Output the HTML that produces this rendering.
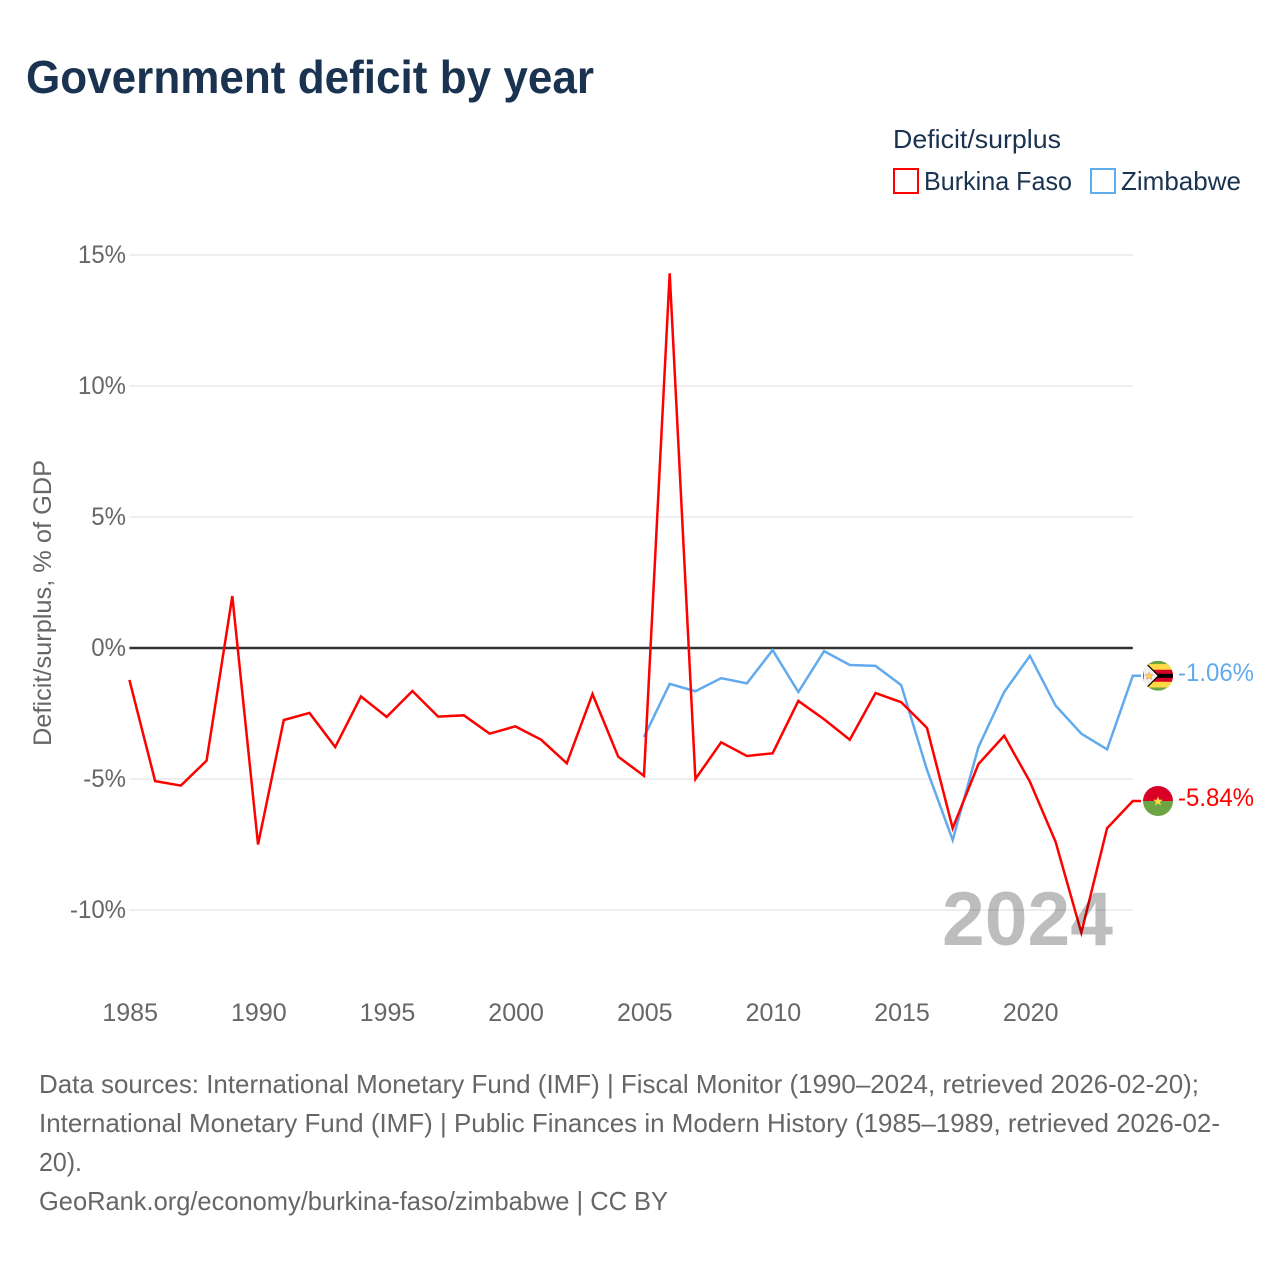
<!DOCTYPE html>
<html lang="en">
<head>
<meta charset="utf-8">
<title>Government deficit by year</title>
<style>
  html, body { margin: 0; padding: 0; background: #fff; }
  svg { display: block; font-family: "Liberation Sans", sans-serif; }
</style>
</head>
<body>
<svg id="chart" xmlns="http://www.w3.org/2000/svg" width="1280" height="1280" viewBox="0 0 1280 1280">
  <defs>
    <clipPath id="flag-clip"><circle cx="0" cy="0" r="15"></circle></clipPath>
  </defs>
  <rect x="0" y="0" width="1280" height="1280" fill="#ffffff"></rect>

  <text x="26" y="93" font-size="46" font-weight="700" fill="#1a3350" textLength="568" lengthAdjust="spacingAndGlyphs">Government deficit by year</text>

  <g>
    <text x="893" y="148" font-size="26" fill="#1a3350" textLength="168" lengthAdjust="spacingAndGlyphs">Deficit/surplus</text>
    <g>
      <rect x="894" y="169" width="24" height="24" fill="none" stroke="#ff0000" stroke-width="2"></rect>
      <text x="924" y="190" font-size="26" fill="#1a3350" textLength="148" lengthAdjust="spacingAndGlyphs">Burkina Faso</text>
    </g>
    <g>
      <rect x="1091" y="169" width="24" height="24" fill="none" stroke="#62aaee" stroke-width="2"></rect>
      <text x="1121" y="190" font-size="26" fill="#1a3350" textLength="120" lengthAdjust="spacingAndGlyphs">Zimbabwe</text>
    </g>
  </g>

  <text transform="translate(51,603) rotate(-90)" text-anchor="middle" font-size="25" fill="#666666" textLength="286" lengthAdjust="spacingAndGlyphs">Deficit/surplus, % of GDP</text>

  <g id="grid"></g>
  <g id="y-ticks"></g>
  <g id="x-ticks"></g>
  <g id="series"></g>

  <text x="942" y="945" font-size="76" font-weight="700" fill="#000000" fill-opacity="0.26" textLength="171" lengthAdjust="spacingAndGlyphs">2024</text>

  <g id="flag-zimbabwe">
    <g clip-path="url(#flag-clip)">
      <rect x="-15" y="-15" width="30" height="30" fill="#6da544"></rect>
      <rect x="-15" y="-11.7" width="30" height="23.4" fill="#ffda44"></rect>
      <rect x="-15" y="-6" width="30" height="12" fill="#d80027"></rect>
      <rect x="-15" y="-2" width="30" height="4" fill="#000000"></rect>
      <polygon points="-15,-15 -10.5,-11 0.5,0 -10.5,11 -15,15" fill="#f0f0f0" stroke="#000000" stroke-width="1.2"></polygon>
      <polygon points="-11,-5 -9.3,-1.6 -5.5,-1.2 -8.3,1.3 -7.5,5 -11,3 -14.5,5 -13.7,1.3 -16.5,-1.2 -12.7,-1.6" fill="#ffda44" stroke="#ef6a6a" stroke-width="0.6" transform="translate(-1,0) scale(.72)"></polygon>
    </g>
  </g>
  <g id="flag-burkina-faso">
    <g clip-path="url(#flag-clip)">
      <rect x="-15" y="-15" width="30" height="15" fill="#d80027"></rect>
      <rect x="-15" y="0" width="30" height="15" fill="#6da544"></rect>
      <polygon points="0,-4.5 1.3,-1.2 4.8,-1.2 2,1 3,4.5 0,2.4 -3,4.5 -2,1 -4.8,-1.2 -1.3,-1.2" fill="#ffda44"></polygon>
    </g>
  </g>
  <text id="value-zimbabwe" x="1178" font-size="25" fill="#62aaee" textLength="76" lengthAdjust="spacingAndGlyphs"></text>
  <text id="value-burkina-faso" x="1178" font-size="25" fill="#ff0000" textLength="76" lengthAdjust="spacingAndGlyphs"></text>

  <g font-size="26" fill="#666666">
    <text x="39" y="1093" textLength="1160" lengthAdjust="spacingAndGlyphs">Data sources: International Monetary Fund (IMF) | Fiscal Monitor (1990–2024, retrieved 2026-02-20);</text>
    <text x="39" y="1132" textLength="1181" lengthAdjust="spacingAndGlyphs">International Monetary Fund (IMF) | Public Finances in Modern History (1985–1989, retrieved 2026-02-</text>
    <text x="39" y="1171" textLength="43" lengthAdjust="spacingAndGlyphs">20).</text>
    <text x="39" y="1210" textLength="629" lengthAdjust="spacingAndGlyphs">GeoRank.org/economy/burkina-faso/zimbabwe | CC BY</text>
  </g>
</svg>
<script>
const burkinaYears = [1985,1986,1987,1988,1989,1990,1991,1992,1993,1994,1995,1996,1997,1998,1999,2000,2001,2002,2003,2004,2005,2006,2007,2008,2009,2010,2011,2012,2013,2014,2015,2016,2017,2018,2019,2020,2021,2022,2023,2024];
const burkinaValues = [-1.22,-5.08,-5.25,-4.3,1.98,-7.5,-2.75,-2.48,-3.78,-1.85,-2.63,-1.64,-2.62,-2.57,-3.27,-2.99,-3.5,-4.4,-1.76,-4.15,-4.88,14.3,-5.0,-3.6,-4.12,-4.02,-2.02,-2.72,-3.5,-1.72,-2.07,-3.05,-6.88,-4.43,-3.35,-5.1,-7.4,-10.87,-6.88,-5.84];
const zimbabweYears = [2005,2006,2007,2008,2009,2010,2011,2012,2013,2014,2015,2016,2017,2018,2019,2020,2021,2022,2023,2024];
const zimbabweValues = [-3.4,-1.37,-1.65,-1.15,-1.35,-0.08,-1.68,-0.12,-0.65,-0.68,-1.42,-4.65,-7.33,-3.78,-1.68,-0.3,-2.2,-3.27,-3.87,-1.06];
const yTickValues = [15,10,5,0,-5,-10];
const yTickLabels = ["15%","10%","5%","0%","-5%","-10%"];
const xTickValues = [1985,1990,1995,2000,2005,2010,2015,2020];
const xTickLabels = ["1985","1990","1995","2000","2005","2010","2015","2020"];

const NS = "http://www.w3.org/2000/svg";
const xScale = function (year) { return 129.4 + (year - 1985) * (1132.8 - 129.4) / (2024 - 1985); };
const yScale = function (value) { return 648 - value * 26.2; };

const grid = document.getElementById("grid");
const yTicks = document.getElementById("y-ticks");
yTickValues.forEach(function (v, i) {
  const line = document.createElementNS(NS, "line");
  
  
  line.setAttribute("x1", xScale(1985));
  line.setAttribute("x2", xScale(2024));
  line.setAttribute("y1", yScale(v));
  line.setAttribute("y2", yScale(v));
  line.setAttribute("stroke", v === 0 ? "#333333" : "#e9e9e9");
  line.setAttribute("stroke-width", v === 0 ? 2.4 : 1.6);
  grid.appendChild(line);

  const label = document.createElementNS(NS, "text");
  
  
  label.setAttribute("x", 126);
  label.setAttribute("y", yScale(v) + 8);
  label.setAttribute("text-anchor", "end");
  label.setAttribute("font-size", 25);
  label.setAttribute("fill", "#666666");
  label.textContent = yTickLabels[i];
  yTicks.appendChild(label);
  label.setAttribute("lengthAdjust", "spacingAndGlyphs");
  label.setAttribute("textLength", (label.getComputedTextLength() * 0.96).toFixed(1));
});

const xTicks = document.getElementById("x-ticks");
xTickValues.forEach(function (year, i) {
  const label = document.createElementNS(NS, "text");
  
  
  label.setAttribute("x", xScale(year) + 0.8);
  label.setAttribute("y", 1021);
  label.setAttribute("text-anchor", "middle");
  label.setAttribute("font-size", 25);
  label.setAttribute("fill", "#666666");
  label.textContent = xTickLabels[i];
  xTicks.appendChild(label);
});

const seriesGroup = document.getElementById("series");

const linePoints = function (years, values) {
  const pts = years.map(function (year, i) {
    return xScale(year).toFixed(2) + "," + yScale(values[i]).toFixed(2);
  });
  const lastY = yScale(values[values.length - 1]).toFixed(2);
  pts.push("1141," + lastY);
  return pts.join(" ");
};

const zimbabweLine = document.createElementNS(NS, "polyline");


zimbabweLine.setAttribute("points", linePoints(zimbabweYears, zimbabweValues));
zimbabweLine.setAttribute("fill", "none");
zimbabweLine.setAttribute("stroke", "#62aaee");
zimbabweLine.setAttribute("stroke-width", 2.5);
seriesGroup.appendChild(zimbabweLine);

const burkinaLine = document.createElementNS(NS, "polyline");


burkinaLine.setAttribute("points", linePoints(burkinaYears, burkinaValues));
burkinaLine.setAttribute("fill", "none");
burkinaLine.setAttribute("stroke", "#ff0000");
burkinaLine.setAttribute("stroke-width", 2.5);
seriesGroup.appendChild(burkinaLine);

const lastBurkina = burkinaValues[burkinaValues.length - 1];
const lastZimbabwe = zimbabweValues[zimbabweValues.length - 1];
document.getElementById("flag-burkina-faso").setAttribute("transform", "translate(1158," + yScale(lastBurkina) + ")");
document.getElementById("flag-zimbabwe").setAttribute("transform", "translate(1158," + yScale(lastZimbabwe) + ")");
const valueBurkina = document.getElementById("value-burkina-faso");
valueBurkina.setAttribute("y", yScale(lastBurkina) + 5);
valueBurkina.textContent = lastBurkina.toFixed(2) + "%";
const valueZimbabwe = document.getElementById("value-zimbabwe");
valueZimbabwe.setAttribute("y", yScale(lastZimbabwe) + 5);
valueZimbabwe.textContent = lastZimbabwe.toFixed(2) + "%";
</script>
</body>
</html>
